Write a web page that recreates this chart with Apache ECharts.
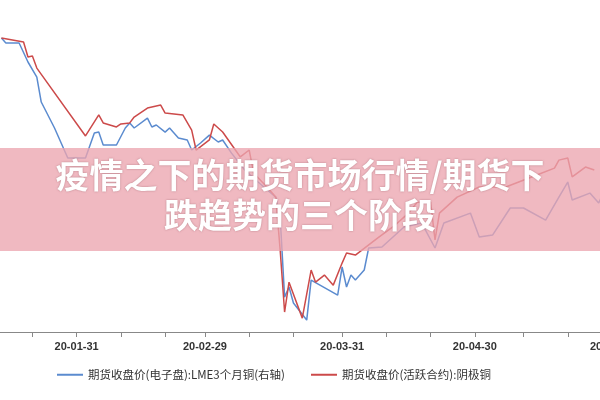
<!DOCTYPE html>
<html><head><meta charset="utf-8">
<script src="https://cdn.jsdelivr.net/npm/echarts@6/dist/echarts.min.js"></script>
<style>html,body{margin:0;padding:0;background:#fff}#c{width:600px;height:400px}</style>
</head><body><div id="c"></div>
<script>
// calendar days from 2020-01-13 to 2020-05-31
const startDate = '2020-01-13';
const dayCount = 140;
const monthEndLabels = ['20-01-31','20-02-29','20-03-31','20-04-30','20-05-31'];
const tickDays = ['01-21','01-31','02-10','02-20','02-29','03-10','03-20','03-31','04-10','04-20','04-30','05-11','05-21','05-31'];

// 期货收盘价(活跃合约):阴极铜  [day index from 01-13, value]
const redDays = [1,6,7,8,9,20,23,24,27,28,30,31,34,37,38,42,44,45,48,49,51,55,57,58,61,63,64,65,66,69,71,72,74,76,78,79,81,86,90,93,95,98,99,100,104,109,115,122,126,127,129,130,133,135];
const redValues = [49790,49600,48890,48930,48360,45130,46130,45750,45560,45700,45750,46030,46460,46600,46220,46130,45410,44460,44940,45700,45320,44130,44460,43370,42700,42220,39700,36750,38170,36460,38750,38170,38510,38030,39080,39560,39460,40270,40890,41460,41980,41980,40180,41460,42220,42700,42700,43270,43600,43980,44080,43180,43650,43510];
// 期货收盘价(电子盘):LME3个月铜(右轴)
const blueDays = [1,2,5,7,9,10,13,16,20,22,23,24,27,29,30,31,34,35,36,38,39,41,43,44,46,48,50,51,53,56,59,63,64,65,66,67,70,71,73,77,78,79,80,81,83,84,87,92,96,99,101,107,109,112,116,119,124,127,129,130,134,136,137];
const blueValues = [6352,6317,6317,6183,6077,5901,5718,5506,5506,5682,5689,5598,5598,5718,5753,5718,5788,5725,5739,5689,5718,5647,5633,5563,5612,5668,5619,5633,5541,5422,5337,5231,5090,4526,4597,4484,4364,4646,4611,4540,4738,4597,4681,4646,4717,4872,4879,5020,5048,4872,5048,5118,4949,4963,5154,5154,5069,5231,5337,5210,5259,5189,5259];

const names = ['期货收盘价(电子盘):LME3个月铜(右轴)','期货收盘价(活跃合约):阴极铜'];

const dates = [];
const base = new Date(startDate + 'T00:00:00Z');
for (let i = 0; i < dayCount; i++) {
  const d = new Date(base.getTime() + i * 86400000);
  dates.push(d.toISOString().slice(2, 10));
}
const tickIdx = new Set(dates.map((d,i)=>tickDays.includes(d.slice(3))?i:-1).filter(i=>i>=0));
const toSeries = (days, vals) => { const a = new Array(dayCount).fill(null); days.forEach((d,i)=>a[d]=vals[i]); return a; };

const chart = echarts.init(document.getElementById('c'));
chart.setOption({
  animation:false,
  grid:{left:-3,right:-12,top:0,bottom:68,containLabel:false,outerBoundsMode:'none'},
  legend:{top:364,left:52,itemGap:26,itemWidth:26,itemHeight:2,icon:'rect',
    textStyle:{fontSize:11.5,color:'#333',fontFamily:'Noto Sans CJK SC'},
    data:[names[0],names[1]]},
  xAxis:{type:'category',data:dates,boundaryGap:false,
    axisLine:{lineStyle:{color:'#888',width:1}},
    axisTick:{interval:(i)=>tickIdx.has(i),length:5,lineStyle:{color:'#888'}},
    axisLabel:{interval:(i,v)=>monthEndLabels.includes(v),color:'#333',fontSize:11,fontWeight:'bold',margin:9,fontFamily:'Liberation Sans'},
    splitLine:{show:false}},
  yAxis:[{type:'value',min:35800,max:51600,show:false,splitLine:{show:false}},
         {type:'value',min:4280,max:6620,show:false,splitLine:{show:false}}],
  series:[
    {name:names[0],type:'line',yAxisIndex:1,data:toSeries(blueDays,blueValues),connectNulls:true,symbol:'none',lineStyle:{color:'#5b8bcf',width:1.5},itemStyle:{color:'#5b8bcf'}},
    {name:names[1],type:'line',yAxisIndex:0,data:toSeries(redDays,redValues),connectNulls:true,symbol:'none',lineStyle:{color:'#cc4a4a',width:1.5},itemStyle:{color:'#cc4a4a'}}
  ],
  graphic:[
    {type:'rect',left:0,top:148,shape:{width:600,height:103},style:{fill:'rgba(236,165,175,0.78)'},z:100},
    {type:'text',left:'center',top:158,z:101,style:{text:'疫情之下的期货市场行情/期货下',fill:'#fff',font:'bold 34px "Noto Sans CJK SC"',textShadowColor:'rgba(120,60,70,0.5)',textShadowBlur:2}},
    {type:'text',left:'center',top:198,z:101,style:{text:'跌趋势的三个阶段',fill:'#fff',font:'bold 34px "Noto Sans CJK SC"',textShadowColor:'rgba(120,60,70,0.5)',textShadowBlur:2}}
  ]
});
</script></body></html>
